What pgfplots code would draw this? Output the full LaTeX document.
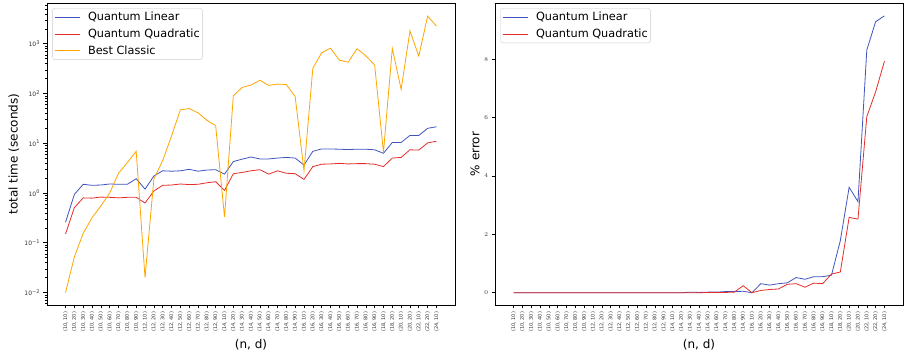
\documentclass[border=0pt]{standalone}
\usepackage{fontspec}
\setmainfont{DejaVu Sans}
\usepackage{pgfplots}
\usepackage{pgfplotstable}
\pgfplotsset{compat=1.18}
\definecolor{qlin}{RGB}{64,84,190}
\definecolor{qquad}{RGB}{228,45,40}
\definecolor{bclass}{RGB}{255,165,0}

\pgfplotstableread{
idx lin quad classic
0 0.26 0.15 0.010
1 0.94 0.51 0.052
2 1.50 0.80 0.155
3 1.43 0.79 0.32
4 1.45 0.83 0.55
5 1.52 0.82 1.0
6 1.50 0.80 2.5
7 1.50 0.82 4.1
8 1.94 0.82 6.9
9 1.20 0.63 0.020
10 2.2 1.10 1.9
11 2.8 1.43 4.5
12 2.75 1.45 14
13 2.8 1.52 47
14 3.0 1.48 50
15 2.75 1.50 41
16 2.9 1.61 29
17 2.95 1.69 22.6
18 2.4 1.13 0.33
19 4.3 2.44 90
20 4.8 2.6 133
21 5.3 2.8 148
22 4.85 2.95 185
23 4.85 2.4 146
24 5.05 2.8 155
25 5.2 2.5 152
26 5.05 2.45 87
27 3.65 1.88 2.8
28 6.9 3.4 322
29 7.7 3.8 660
30 7.7 3.85 820
31 7.6 3.95 470
32 7.5 3.85 425
33 7.6 3.9 795
34 7.6 3.9 575
35 7.4 3.8 375
36 6.3 3.4 6.6
37 10.4 5.05 810
38 10.4 5.2 121
39 14.4 7.4 1820
40 14.4 7.3 565
41 20 10.2 3600
42 21.5 11 2270
}\timetab

\pgfplotstableread{
idx lin quad
0 0 0
1 0 0
2 0 0
3 0 0
4 0 0
5 0 0
6 0 0
7 0 0
8 0 0
9 0 0
10 0 0
11 0 0
12 0 0
13 0 0
14 0 0
15 0 0
16 0 0
17 0 0
18 0 0
19 0 0
20 0.02 0
21 0.01 0
22 0.02 0.01
23 0.02 0.01
24 0.04 0.01
25 0.04 0.02
26 0.05 0.24
27 0.0 0.0
28 0.31 0.08
29 0.26 0.11
30 0.31 0.13
31 0.34 0.29
32 0.52 0.31
33 0.46 0.19
34 0.55 0.33
35 0.55 0.31
36 0.60 0.64
37 1.78 0.71
38 3.61 2.58
39 3.12 2.52
40 8.31 6.03
41 9.28 6.88
42 9.48 7.93
}\errtab

\pgfplotsset{
 common/.style={
  scale only axis, width=408pt, height=302pt,
  xmin=-2.1, xmax=44.1,
  xtick={0,...,42},
  xticklabels={{(10, 10)},{(10, 20)},{(10, 30)},{(10, 40)},{(10, 50)},{(10, 60)},{(10, 70)},{(10, 80)},{(10, 90)},
   {(12, 10)},{(12, 20)},{(12, 30)},{(12, 40)},{(12, 50)},{(12, 60)},{(12, 70)},{(12, 80)},{(12, 90)},
   {(14, 10)},{(14, 20)},{(14, 30)},{(14, 40)},{(14, 50)},{(14, 60)},{(14, 70)},{(14, 80)},{(14, 90)},
   {(16, 10)},{(16, 20)},{(16, 30)},{(16, 40)},{(16, 50)},{(16, 60)},{(16, 70)},{(16, 80)},{(16, 90)},
   {(18, 10)},{(18, 20)},{(20, 10)},{(20, 20)},{(22, 10)},{(22, 20)},{(24, 10)}},
  x tick label style={rotate=90, anchor=east, font=\fontsize{5}{6}\selectfont, text=black!80},
  y tick label style={font=\fontsize{6}{7}\selectfont, text=black!80},
  tick align=outside, tick pos=left,
  major tick length=3.5pt, minor tick length=2pt,
  axis line style={line width=0.8pt},
  every tick/.style={black, line width=0.6pt},
  xlabel={(n, d)},
  xlabel style={at={(axis description cs:0.5,0)}, anchor=center, yshift=-40pt, font=\fontsize{12}{14}\selectfont},
  ylabel style={at={(axis description cs:0,0.5)}, anchor=center, font=\fontsize{12}{14}\selectfont},
  legend style={at={(axis description cs:0,1)}, anchor=north west, xshift=5.5pt, yshift=-5.3pt,
    draw=black!20, rounded corners=2pt, fill=white, fill opacity=0.8, text opacity=1,
    font=\fontsize{11.3}{13}\selectfont, inner xsep=1.5pt, inner ysep=0.5pt,
    nodes={inner xsep=1pt, inner ysep=3.3pt, text depth=0.15em}, column sep=7pt},
  legend cell align=left,
  legend image code/.code={\draw[#1] (0pt,0pt) -- (25pt,0pt);},
 }
}

\begin{document}
\begin{tikzpicture}
\begin{axis}[common,
  ymode=log, ymin=0.00562, ymax=6610,
  ytick={0.01,0.1,1,10,100,1000},
  yticklabels={10\textsuperscript{−2},10\textsuperscript{−1},10\textsuperscript{0},10\textsuperscript{1},10\textsuperscript{2},10\textsuperscript{3}},
  minor ytick={0.006,0.007,0.008,0.009,0.02,0.03,0.04,0.05,0.06,0.07,0.08,0.09,0.2,0.3,0.4,0.5,0.6,0.7,0.8,0.9,2,3,4,5,6,7,8,9,20,30,40,50,60,70,80,90,200,300,400,500,600,700,800,900,2000,3000,4000,5000,6000},
  ylabel={total time (seconds)},
  ylabel style={at={(axis description cs:-0.081,0.5)}},
]
\addplot[qlin, line width=0.8pt] table[x=idx, y=lin] {\timetab};
\addlegendentry{Quantum Linear}
\addplot[qquad, line width=0.8pt] table[x=idx, y=quad] {\timetab};
\addlegendentry{Quantum Quadratic}
\addplot[bclass, line width=0.8pt] table[x=idx, y=classic] {\timetab};
\addlegendentry{Best Classic}
\end{axis}
\begin{axis}[common, at={(448pt,0pt)},
  ymin=-0.42, ymax=9.92,
  ytick={0,2,4,6,8},
  ylabel={\% error},
  ylabel style={at={(axis description cs:-0.049,0.5)}},
]
\addplot[qlin, line width=0.8pt] table[x=idx, y=lin] {\errtab};
\addlegendentry{Quantum Linear}
\addplot[qquad, line width=0.8pt] table[x=idx, y=quad] {\errtab};
\addlegendentry{Quantum Quadratic}
\end{axis}
\pgfresetboundingbox
\path (-47pt,-53pt) rectangle (862pt,305pt);
\end{tikzpicture}
\end{document}
